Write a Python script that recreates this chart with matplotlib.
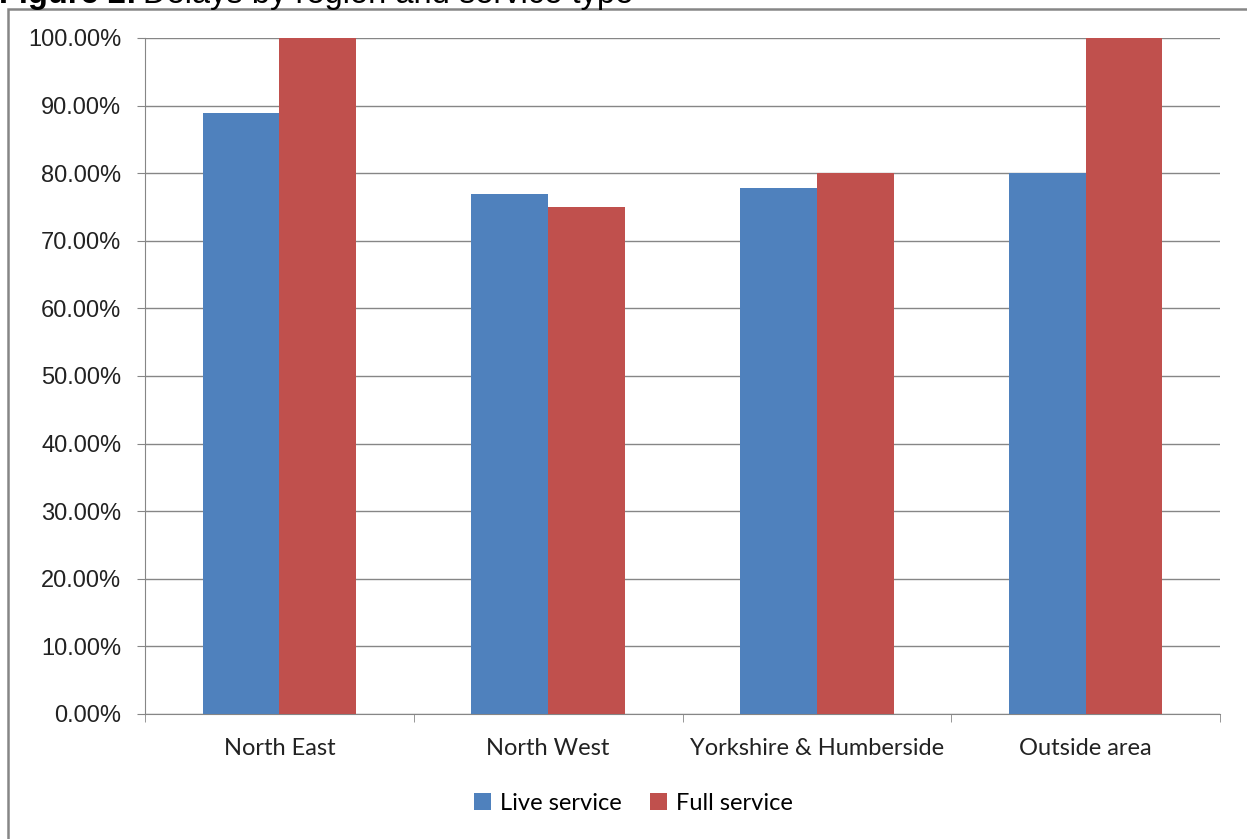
import numpy as np
import matplotlib.pyplot as plt
from matplotlib.patches import Rectangle
from matplotlib.ticker import FuncFormatter

# delay rates by region, as fractions
regions = ['North East', 'North West', 'Yorkshire & Humberside', 'Outside area']
live_service = [0.8889, 0.7692, 0.7778, 0.80]
full_service = [1.00, 0.75, 0.80, 1.00]
y_ticks = np.arange(0, 1.01, 0.1)

blue = '#4F81BD'
red = '#C0504D'
grey = '#868686'

fig = plt.figure(figsize=(12.47, 8.39), dpi=100)
ax = fig.add_axes([145/1247, 1 - 714/839, 1075/1247, 676/839])

x = np.arange(len(regions))
w = 0.286
ax.bar(x - w/2, live_service, w, color=blue, label='Live service', zorder=3)
ax.bar(x + w/2, full_service, w, color=red, label='Full service', zorder=3)

ax.set_xlim(-0.5, len(regions) - 0.5)
ax.set_ylim(0, 1.0)
ax.set_yticks(y_ticks)
ax.yaxis.set_major_formatter(FuncFormatter(lambda v, p: f'{v*100:.2f}%'))
ax.grid(axis='y', color=grey, linewidth=1, zorder=0)

# category labels go between the boundary tick marks
ax.set_xticks(x)
ax.set_xticklabels(regions, fontsize=17, family='Lato', color='#222222')
ax.tick_params(axis='x', length=0, pad=17.5)
ax.set_xticks(np.arange(-0.5, len(regions)), minor=True)
ax.tick_params(axis='x', which='minor', length=6, color=grey, direction='out')
ax.tick_params(axis='y', length=6, color=grey, pad=11, labelsize=17)
for lab in ax.get_yticklabels():
    lab.set_family('Liberation Sans')
    lab.set_color('#222222')

for side in ['top', 'right']:
    ax.spines[side].set_visible(False)
ax.spines['left'].set_color(grey)
ax.spines['bottom'].set_color(grey)

ax.legend(loc='center', bbox_to_anchor=(633/1247, 1 - 803/839),
          bbox_transform=fig.transFigure, ncol=2, frameon=False,
          prop={'family': 'Lato', 'size': 17}, handlelength=0.75,
          handleheight=0.75, handletextpad=0.35, columnspacing=1.2)

# chart border
fig.patches.append(Rectangle((8/1247, -0.1), 1.2, 1 - 9/839 + 0.1,
                             transform=fig.transFigure, fill=False,
                             edgecolor=grey, linewidth=1.8))

# caption above the chart, bold lead-in then plain text
ty = 1 - 2.5/839
t1 = fig.text(-1/1247, ty, 'Figure 2:', fontsize=23.5, fontweight='bold',
              family='Liberation Sans', va='baseline', ha='left')
renderer = fig.canvas.get_renderer()
bb = t1.get_window_extent(renderer)
fig.text(bb.x1 / 1247 + 6/1247, ty, 'Delays by region and service type',
         fontsize=23.5, family='Liberation Sans', va='baseline', ha='left')

fig.savefig('out.png', dpi=100)
